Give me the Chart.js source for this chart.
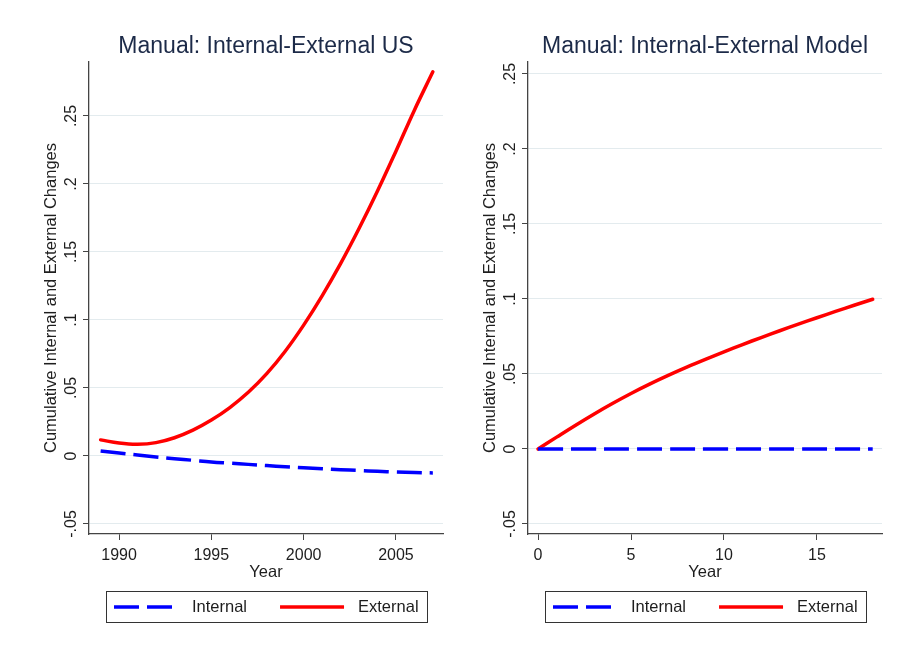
<!DOCTYPE html>
<html>
<head>
<meta charset="utf-8">
<title>Manual: Internal-External</title>
<script src="https://cdn.jsdelivr.net/npm/chart.js"></script>
<style>
  html, body { margin: 0; padding: 0; background: #fff; }
  #wrap { display: flex; width: 902px; height: 656px; }
  #wrap canvas { display: block; }
</style>
</head>
<body>
<div id="wrap">
  <canvas id="usChart" width="451" height="656"></canvas>
  <canvas id="modelChart" width="451" height="656"></canvas>
</div>
<script>
// values
const usYears = [1989, 1990, 1991, 1992, 1993, 1994, 1995, 1996, 1997, 1998,
                 1999, 2000, 2001, 2002, 2003, 2004, 2005, 2006, 2007];
const usInternal = [0.0037, 0.0022, 0.0007, -0.0007, -0.0020, -0.0032, -0.0044, -0.0053, -0.0062, -0.0071,
                    -0.0079, -0.0087, -0.0094, -0.0101, -0.0107, -0.0113, -0.0118, -0.0122, -0.0125];
const usExternal = [0.0118, 0.0095, 0.0086, 0.0098, 0.0134, 0.0190, 0.0264, 0.0356, 0.0468, 0.0605,
                    0.0770, 0.0962, 0.1177, 0.1414, 0.1672, 0.1948, 0.2241, 0.2543, 0.2825];

const modelYears = [0, 1, 2, 3, 4, 5, 6, 7, 8, 9, 10, 11, 12, 13, 14, 15, 16, 17, 18];
const modelInternal = [0, 0, 0, 0, 0, 0, 0, 0, 0, 0, 0, 0, 0, 0, 0, 0, 0, 0, 0];
const modelExternal = [0, 0.0079, 0.0157, 0.0232, 0.0303, 0.0370, 0.0432, 0.0490, 0.0545, 0.0597,
                       0.0647, 0.0696, 0.0743, 0.0788, 0.0832, 0.0875, 0.0917, 0.0958, 0.0998];

// tick labels
const usXTicks = [1990, 1995, 2000, 2005];
const modelXTicks = [0, 5, 10, 15];
const yTicks = [-0.05, 0, 0.05, 0.1, 0.15, 0.2, 0.25];

const FONT = 'Arial, "Liberation Sans", sans-serif';
const INK = '#1e1e1e';
const AXIS = '#444';
Chart.defaults.font.family = FONT;

// stata style numbers: .25, -.05, 0
function stataNum(v) {
  if (Math.abs(v) < 1e-9) return '0';
  return String(+v.toFixed(2)).replace(/^(-?)0\./, '$1.');
}

// legend in a framed box under the plot, like stata does it
const boxLegend = {
  id: 'boxLegend',
  afterDraw(chart) {
    const ctx = chart.ctx, area = chart.chartArea;
    const pad = 8, keyW = 64, keyGap = 14, itemGap = 33, top = 591, h = 31;
    ctx.save();
    ctx.font = '16.5px ' + FONT;
    const items = chart.data.datasets.map(ds => ({ ds, w: ctx.measureText(ds.label).width }));
    let total = pad * 2 + itemGap * (items.length - 1);
    items.forEach(it => total += keyW + keyGap + it.w);
    let x = Math.round((area.left + area.right) / 2 - total / 2);
    ctx.strokeStyle = '#333';
    ctx.lineWidth = 1;
    ctx.strokeRect(x + 0.5, top + 0.5, Math.round(total), h);
    const cy = top + h / 2 + 0.5;
    x += pad;
    items.forEach(it => {
      ctx.beginPath();
      ctx.setLineDash(it.ds.borderDash || []);
      ctx.strokeStyle = it.ds.borderColor;
      ctx.lineWidth = it.ds.borderWidth;
      ctx.moveTo(x, cy);
      ctx.lineTo(x + keyW, cy);
      ctx.stroke();
      ctx.setLineDash([]);
      x += keyW + keyGap;
      ctx.fillStyle = INK;
      ctx.textBaseline = 'middle';
      ctx.textAlign = 'left';
      ctx.fillText(it.ds.label, x, cy);
      x += it.w + itemGap;
    });
    ctx.restore();
  }
};

function makeChart(id, title, xs, internal, external, xRange, yRange, xTicks, padL, padR) {
  return new Chart(document.getElementById(id), {
    type: 'line',
    data: {
      datasets: [
        {
          label: 'Internal',
          data: xs.map((x, i) => ({ x: x, y: internal[i] })),
          borderColor: '#0000ff',
          borderWidth: 3.5,
          borderDash: [25, 8],
          pointRadius: 0,
          tension: 0.4,
          fill: false
        },
        {
          label: 'External',
          data: xs.map((x, i) => ({ x: x, y: external[i] })),
          borderColor: '#ff0000',
          borderWidth: 3.5,
          borderCapStyle: 'round',
          pointRadius: 0,
          tension: 0.4,
          fill: false
        }
      ]
    },
    options: {
      responsive: false,
      animation: false,
      layout: { padding: { left: padL, right: padR, top: 0, bottom: 74 } },
      plugins: {
        legend: { display: false },
        tooltip: { enabled: false },
        title: {
          display: true,
          text: title,
          fullSize: false,
          color: '#1c2a48',
          font: { size: 23, weight: 'normal' },
          padding: { top: 33, bottom: 1.4 }
        }
      },
      scales: {
        x: {
          type: 'linear',
          min: xRange[0],
          max: xRange[1],
          afterBuildTicks: s => { s.ticks = xTicks.map(v => ({ value: v })); },
          afterFit: s => { s.height = 48; },
          grid: { drawOnChartArea: false, tickLength: 6, tickColor: AXIS },
          border: { color: AXIS, width: 1.3 },
          ticks: { padding: 6, color: INK, font: { size: 16 }, maxRotation: 0, autoSkip: false, callback: v => String(v) },
          title: { display: true, text: 'Year', color: INK, font: { size: 16.5 }, padding: { top: 0, bottom: 0 } }
        },
        y: {
          min: yRange[0],
          max: yRange[1],
          afterBuildTicks: s => { s.ticks = yTicks.map(v => ({ value: v })); },
          afterFit: s => { s.width = 77; },
          grid: { color: '#e3ebee', tickLength: 6, tickColor: AXIS },
          border: { color: AXIS, width: 1.3 },
          ticks: { minRotation: 90, maxRotation: 90, crossAlign: 'center', padding: -2, color: INK, font: { size: 16 }, autoSkip: false, callback: stataNum },
          title: { display: true, text: 'Cumulative Internal and External Changes', color: INK, font: { size: 16.5 }, padding: { top: 30, bottom: 0 } }
        }
      }
    },
    plugins: [boxLegend]
  });
}

makeChart('usChart', 'Manual: Internal-External US', usYears, usInternal, usExternal,
  [1988.37, 2007.55], [-0.0574, 0.2897], usXTicks, 12, 8);
makeChart('modelChart', 'Manual: Internal-External Model', modelYears, modelInternal, modelExternal,
  [-0.54, 18.5], [-0.0567, 0.258], modelXTicks, 0, 20);
</script>
</body>
</html>
